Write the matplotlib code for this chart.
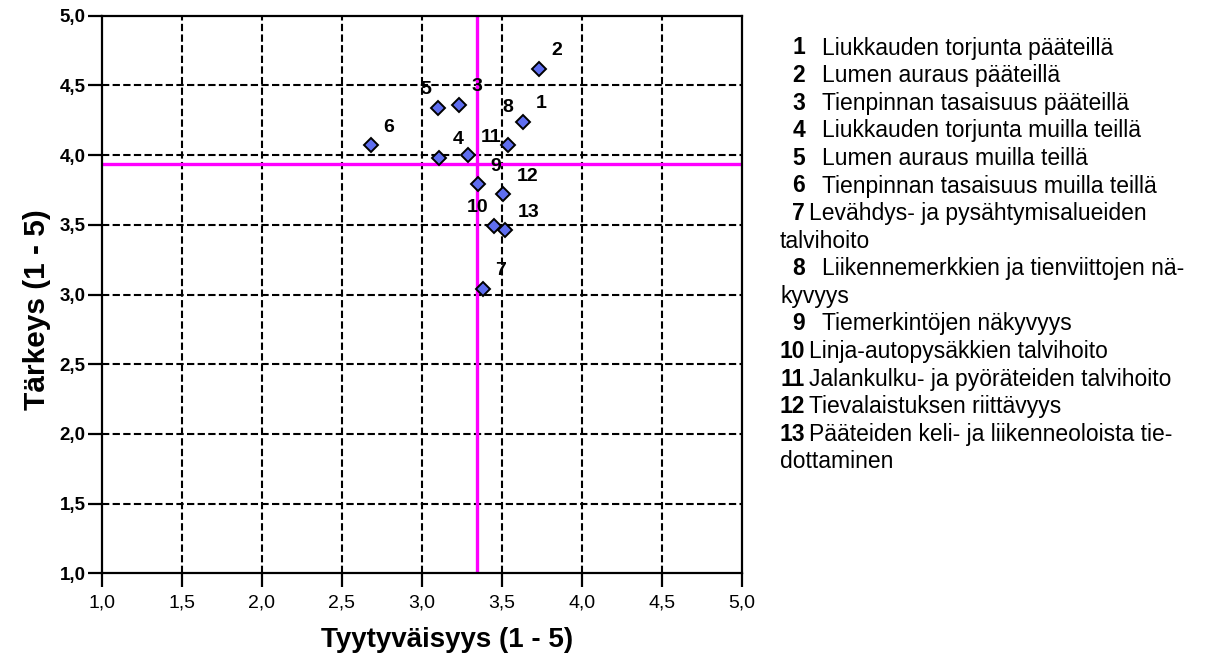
import numpy as np
import matplotlib
matplotlib.use('Agg')
import matplotlib.pyplot as plt

plt.rcParams['font.family'] = ['Liberation Sans', 'DejaVu Sans']

# satisfaction (x) and importance (y) for items 1..13
ids = [1, 2, 3, 4, 5, 6, 7, 8, 9, 10, 11, 12, 13]
tyytyvaisyys = [3.63, 3.73, 3.23, 3.11, 3.10, 2.68, 3.38, 3.54, 3.35, 3.45, 3.29, 3.51, 3.52]
tarkeys = [4.24, 4.62, 4.36, 3.98, 4.34, 4.07, 3.04, 4.07, 3.79, 3.49, 4.00, 3.72, 3.46]

ticks = [1.0, 1.5, 2.0, 2.5, 3.0, 3.5, 4.0, 4.5, 5.0]

selitteet = [
    ('1', 'Liukkauden torjunta pääteillä'),
    ('2', 'Lumen auraus pääteillä'),
    ('3', 'Tienpinnan tasaisuus pääteillä'),
    ('4', 'Liukkauden torjunta muilla teillä'),
    ('5', 'Lumen auraus muilla teillä'),
    ('6', 'Tienpinnan tasaisuus muilla teillä'),
    ('7', 'Levähdys- ja pysähtymisalueiden', 'talvihoito'),
    ('8', 'Liikennemerkkien ja tienviittojen nä-', 'kyvyys'),
    ('9', 'Tiemerkintöjen näkyvyys'),
    ('10', 'Linja-autopysäkkien talvihoito'),
    ('11', 'Jalankulku- ja pyöräteiden talvihoito'),
    ('12', 'Tievalaistuksen riittävyys'),
    ('13', 'Pääteiden keli- ja liikenneoloista tie-', 'dottaminen'),
]

W, H = 1212, 662
fig = plt.figure(figsize=(W / 100, H / 100), dpi=100)
ax = fig.add_axes([101.5 / W, 1 - 573.3 / H, (742 - 101.5) / W, (573.3 - 15.7) / H])

ax.set_xlim(1, 5)
ax.set_ylim(1, 5)
ax.set_xticks(ticks)
ax.set_yticks(ticks)
fmt = lambda v: f'{v:.1f}'.replace('.', ',')
ax.set_xticklabels([fmt(t) for t in ticks])
ax.set_yticklabels([fmt(t) for t in ticks])
ax.tick_params(length=10, width=1.6, color='black')
ax.tick_params(axis='x', labelsize=14, pad=5)
ax.tick_params(axis='y', labelsize=13.5, pad=1.5)
for lab in ax.get_yticklabels():
    lab.set_fontweight('bold')
for s in ax.spines.values():
    s.set_linewidth(1.6)

for t in ticks[1:-1]:
    ax.axvline(t, color='black', lw=1.5, dashes=(3.5, 1.6), zorder=1)
    ax.axhline(t, color='black', lw=1.5, dashes=(3.5, 1.6), zorder=1)

ax.axvline(np.mean(tyytyvaisyys), color='#ff00ff', lw=2.4, zorder=2)
ax.axhline(np.mean(tarkeys), color='#ff00ff', lw=2.4, zorder=2)

ax.plot(tyytyvaisyys, tarkeys, 'D', ms=7.5, mfc='#5f6ef0', mec='black', mew=1.4, zorder=3,
        clip_on=False)

shift = {5: (-17, -18), 8: (-6, -38), 10: (-27, -19)}
for i, x, y in zip(ids, tyytyvaisyys, tarkeys):
    dx, dy = shift.get(i, (13, -18))
    ax.annotate(str(i), (x, y), xytext=(dx, -dy), textcoords='offset pixels',
                ha='left', va='center', fontweight='bold', fontsize=14, zorder=4)

fig.text(447 / W, 1 - 640 / H, 'Tyytyväisyys (1 - 5)', ha='center', va='center',
         fontweight='bold', fontsize=20)
fig.text(37 / W, 1 - 310 / H, 'Tärkeys (1 - 5)', ha='center', va='center',
         rotation=90, fontweight='bold', fontsize=21.5)

# legend text on the right
y0, step = 48, 27.6
row = 0
for item in selitteet:
    num, first = item[0], item[1]
    yy = 1 - (y0 + row * step) / H
    fig.text(805 / W, yy, num, ha='right', va='center', fontweight='bold', fontsize=16.5)
    x_txt = 822 if (len(item) == 2 and len(num) == 1) or num == '8' else 809
    fig.text(x_txt / W, yy, first, ha='left', va='center', fontsize=16.5)
    row += 1
    for extra in item[2:]:
        yy = 1 - (y0 + row * step) / H
        fig.text(780 / W, yy, extra, ha='left', va='center', fontsize=16.5)
        row += 1

fig.savefig('out.png', dpi=100)
